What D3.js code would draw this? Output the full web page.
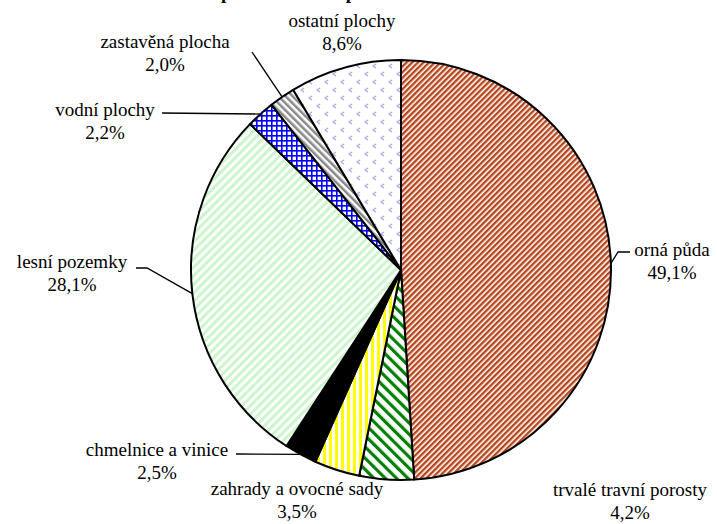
<!DOCTYPE html>
<html><head><meta charset="utf-8">
<script src="https://cdn.jsdelivr.net/npm/d3@7"></script>
<style>html,body{margin:0;padding:0;background:#fff;overflow:hidden}</style>
</head><body>
<svg id="chart" width="717" height="524"></svg>
<script>
// ---- data ----
const categories = ["orná půda","trvalé travní porosty","zahrady a ovocné sady","chmelnice a vinice","lesní pozemky","vodní plochy","zastavěná plocha","ostatní plochy"];
const values = [49.1, 4.2, 3.5, 2.5, 28.1, 2.2, 2.0, 8.6];
const valueLabels = ["49,1%","4,2%","3,5%","2,5%","28,1%","2,2%","2,0%","8,6%"];
const titleText = "Struktura půdního fondu podle druhů";

// ---- layout ----
const W = 717, H = 524;
const cx = 401, cy = 270, R = 210;
const fontFamily = "Liberation Serif";
const fs = 19;
const labelLayout = [
  {x: 672, y: 256, leader: true, elbow: [618, 252], end: [630, 252]},
  {x: 630, y: 496, leader: false},
  {x: 297, y: 495, leader: false},
  {x: 157, y: 456, leader: true, elbow: null, end: [236, 454]},
  {x: 72,  y: 268, leader: true, elbow: [147, 268], end: [136, 268]},
  {x: 105, y: 116, leader: true, elbow: null, end: [162, 113]},
  {x: 165, y: 48,  leader: true, elbow: [252, 52], end: [252, 52]},
  {x: 342, y: 27,  leader: false}
];

const svg = d3.select("#chart");
const defs = svg.append("defs");

function stripePattern(id, color, period, width, angle) {
  const p = defs.append("pattern").attr("id", id).attr("patternUnits", "userSpaceOnUse")
    .attr("width", period).attr("height", period).attr("patternTransform", `rotate(${angle})`);
  p.append("rect").attr("width", period).attr("height", period).attr("fill", "#fff");
  p.append("rect").attr("width", width).attr("height", period).attr("fill", color);
}
stripePattern("pOrna", "#b8461c", 4, 2.4, 45);
stripePattern("pTrvale", "#008000", 8, 3.2, -45);
stripePattern("pZahrady", "#ffff00", 6, 3, 0);
stripePattern("pLesni", "#ccf5cc", 6, 3, 45);
stripePattern("pZastav", "#888888", 5, 2.5, -45);
{
  const p = defs.append("pattern").attr("id", "pVodni").attr("patternUnits", "userSpaceOnUse")
    .attr("width", 5).attr("height", 5);
  p.append("rect").attr("width", 5).attr("height", 5).attr("fill", "#fff");
  p.append("rect").attr("width", 1.6).attr("height", 5).attr("fill", "#0000ff");
  p.append("rect").attr("width", 5).attr("height", 1.6).attr("fill", "#0000ff");
}
{
  const p = defs.append("pattern").attr("id", "pOstatni").attr("patternUnits", "userSpaceOnUse")
    .attr("width", 16).attr("height", 16);
  p.append("rect").attr("width", 16).attr("height", 16).attr("fill", "#fff");
  const mk = (x, y) => p.append("path").attr("d", `M${x+3},${y} L${x},${y+2} L${x+3},${y+4}`)
    .attr("fill", "none").attr("stroke", "#a8a8f0").attr("stroke-width", 1.2);
  mk(4, 2); mk(12, 10);
}
const fills = ["url(#pOrna)","url(#pTrvale)","url(#pZahrady)","#000000","url(#pLesni)","url(#pVodni)","url(#pZastav)","url(#pOstatni)"];

svg.append("text").attr("x", 135).attr("y", -1)
  .attr("font-family", fontFamily).attr("font-size", 19).attr("font-weight", "bold")
  .attr("fill", "#000").text(titleText);

const pie = d3.pie().sort(null).value(d => d);
const arcs = pie(values);
const arc = d3.arc().innerRadius(0).outerRadius(R);

const g = svg.append("g").attr("transform", `translate(${cx},${cy})`);
g.selectAll("path.slice").data(arcs).join("path")
  .attr("class", "slice")
  .attr("d", arc)
  .attr("fill", (d, i) => fills[i])
  .attr("stroke", "#000").attr("stroke-width", 2).attr("stroke-linejoin", "round");

arcs.forEach((a, i) => {
  const L = labelLayout[i];
  if (!L.leader) return;
  const mid = (a.startAngle + a.endAngle) / 2;
  const ex = cx + R * Math.sin(mid), ey = cy - R * Math.cos(mid);
  const pts = [[ex, ey]];
  if (L.elbow) pts.push(L.elbow);
  pts.push(L.end);
  svg.append("path").attr("d", d3.line()(pts))
    .attr("fill", "none").attr("stroke", "#000").attr("stroke-width", 1.3);
});

arcs.forEach((a, i) => {
  const L = labelLayout[i];
  const t = svg.append("text").attr("font-family", fontFamily).attr("font-size", fs)
    .attr("text-anchor", "middle").attr("fill", "#000");
  t.append("tspan").attr("x", L.x).attr("y", L.y).text(categories[i]);
  t.append("tspan").attr("x", L.x).attr("y", L.y + 23).text(valueLabels[i]);
});
</script>
</body></html>
